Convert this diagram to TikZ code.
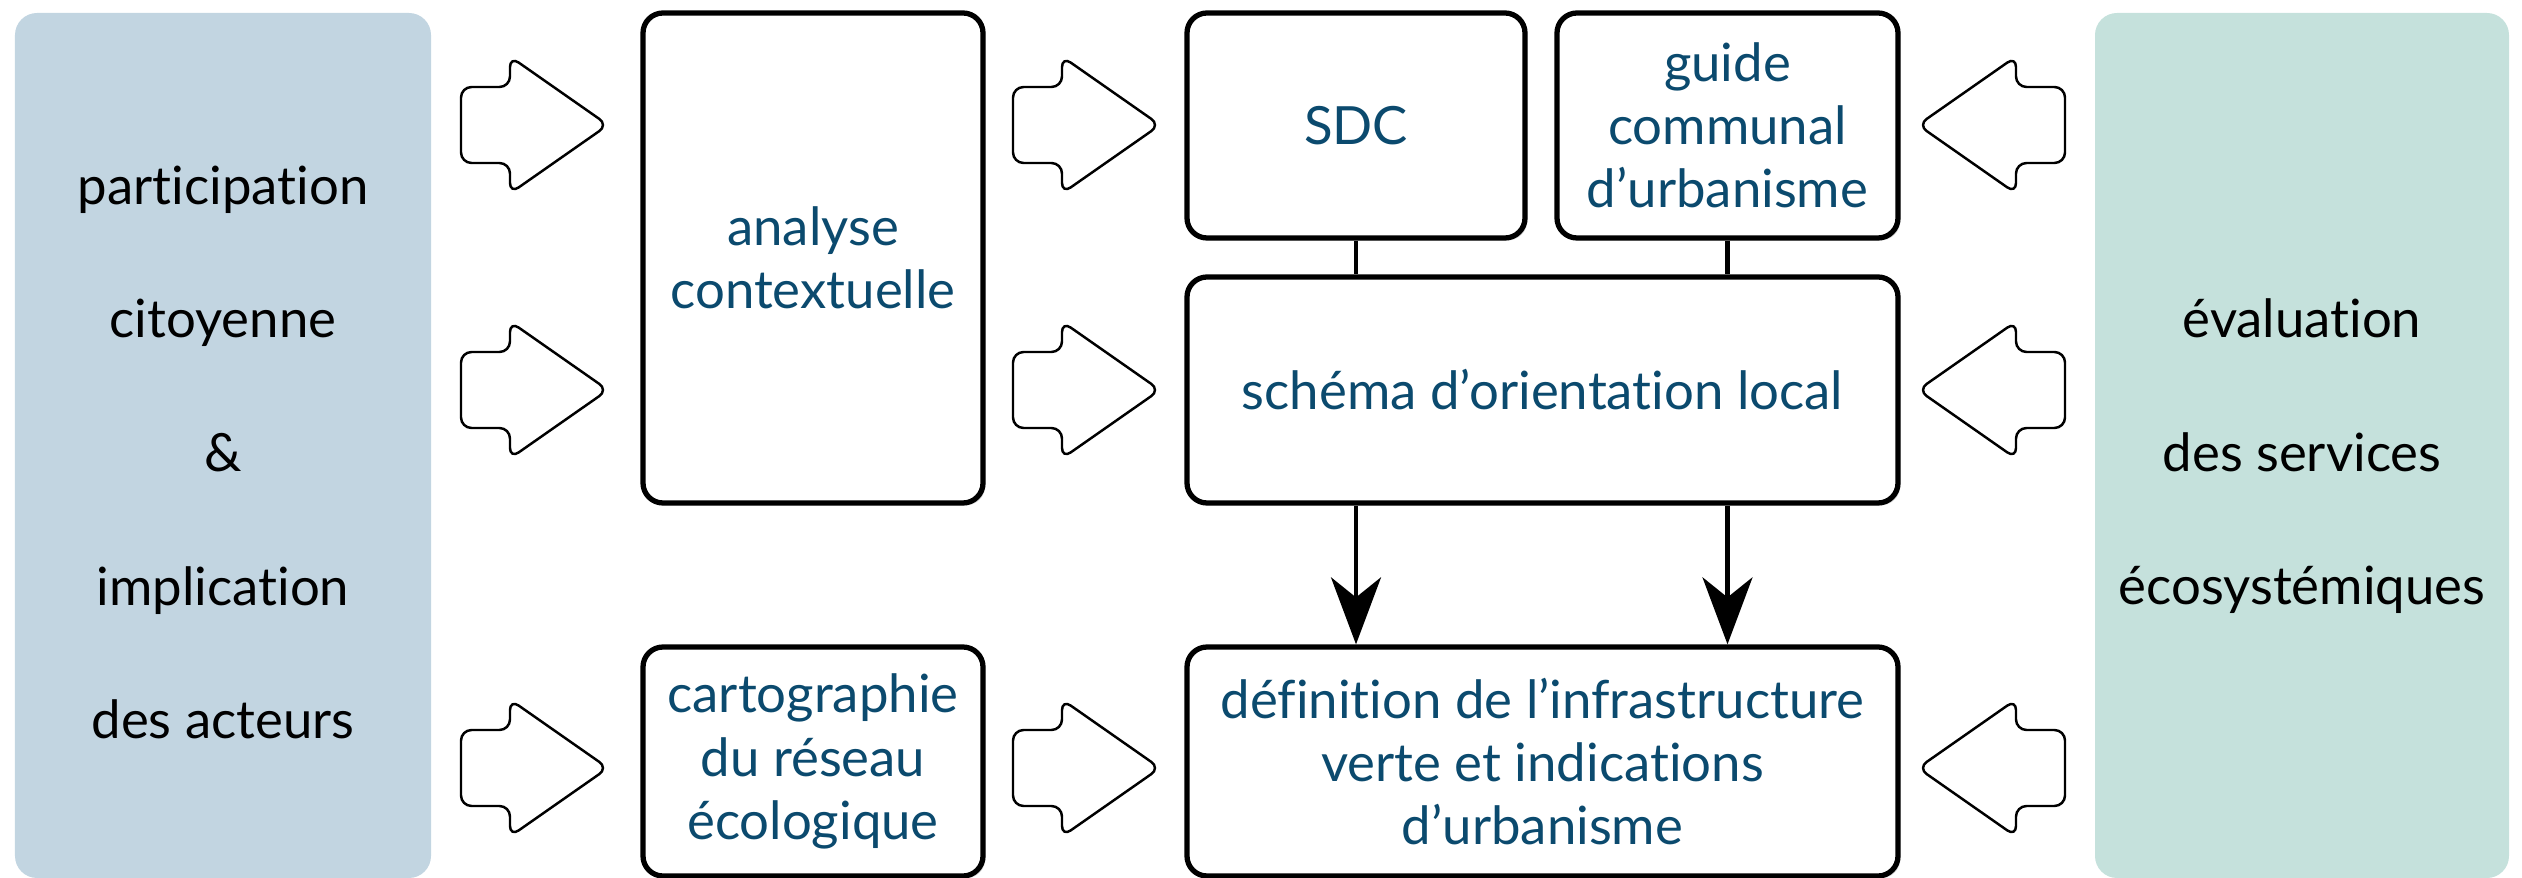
\documentclass[tikz,border=0pt]{standalone}
\usepackage{fontspec}
\setmainfont{Lato}[Ligatures={NoCommon}]
\usepackage{tikz}
\usetikzlibrary{arrows.meta}
\usetikzlibrary{positioning}
\usetikzlibrary{shadows}
\definecolor{bleufonce}{HTML}{0B4A6E}
\definecolor{panneaubleu}{HTML}{C2D5E1}
\definecolor{panneauvert}{HTML}{C5E1DC}

\tikzset{
  etape/.style={draw, line width=1.5pt, rounded corners=0.2cm, fill=white,
    text=bleufonce, align=center, inner sep=2pt,
    font=\fontsize{15}{18}\selectfont,
    drop shadow={shadow xshift=0.7pt, shadow yshift=-0.7pt, opacity=0.3}},
  panneau/.style={rounded corners=0.22cm, inner sep=0pt},
  textepanneau/.style={align=center, inner sep=0pt,
    font=\fontsize{15}{38}\selectfont},
  lien/.style={line width=1.2pt},
  fleche/.pic={
    \draw[line width=0.7pt, rounded corners=3pt, fill=white]
      (-0.735,-0.38) -- (-0.245,-0.38) -- (-0.245,-0.685) -- (0.735,0)
      -- (-0.245,0.685) -- (-0.245,0.38) -- (-0.735,0.38) -- cycle;
  }
}

\begin{document}
\begin{tikzpicture}
  \useasboundingbox (0,0) rectangle (25.22,-8.78);

  % Panneaux lateraux
  \node[panneau, fill=panneaubleu, minimum width=4.16cm, minimum height=8.65cm]
    (acteurs) at (2.23,-4.455) {};
  \node[textepanneau] at ([yshift=-0.07cm]acteurs.center)
    {participation\\citoyenne\\\&\\implication\\des acteurs};
  \node[panneau, fill=panneauvert, minimum width=4.14cm, minimum height=8.65cm]
    (services) at (23.02,-4.455) {};
  \node[textepanneau] at ([yshift=-0.11cm]services.center)
    {évaluation\\des services\\écosystémiques};

  % Etapes
  \node[etape, minimum width=3.4cm, minimum height=4.9cm] (analyse) at (8.13,-2.58)
    {analyse\\contextuelle};
  \node[etape, minimum width=3.38cm, minimum height=2.25cm] (sdc) at (13.56,-1.255)
    {SDC};
  \node[etape, minimum width=3.41cm, minimum height=2.25cm] (guide) at (17.275,-1.255)
    {guide\\communal\\d’urbanisme};
  \node[etape, minimum width=7.11cm, minimum height=2.26cm] (schema) at (15.425,-3.90)
    {schéma d’orientation local};
  \node[etape, minimum width=3.4cm, minimum height=2.29cm] (carto) at (8.13,-7.615)
    {cartographie\\du réseau\\écologique};
  \node[etape, minimum width=7.11cm, minimum height=2.29cm] (definition) at (15.425,-7.615)
    {définition de l’infrastructure\\verte et indications\\d’urbanisme};

  % Liens
  \draw[lien] (sdc.south) -- (schema.north -| sdc.south);
  \draw[lien] (guide.south) -- (schema.north -| guide.south);
  \draw[lien, -{Stealth[length=0.67cm, width=0.5cm, inset=0.2cm]}]
    (schema.south -| sdc.south) -- (definition.north -| sdc.south);
  \draw[lien, -{Stealth[length=0.67cm, width=0.5cm, inset=0.2cm]}]
    (schema.south -| guide.south) -- (definition.north -| guide.south);

  % Fleches
  \foreach \y in {-1.25,-3.9,-7.68} {
    \pic at (5.345,\y) {fleche};
    \pic at (10.865,\y) {fleche};
    \pic[rotate=180] at (19.915,\y) {fleche};
  }
\end{tikzpicture}
\end{document}
